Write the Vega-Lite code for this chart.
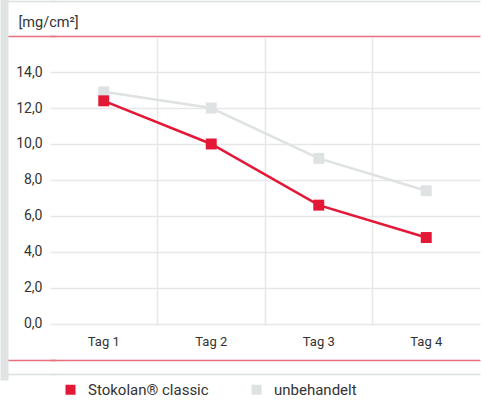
{
  "$schema": "https://vega.github.io/schema/vega-lite/v6.json",
  "width": 426,
  "height": 375,
  "autosize": {"type": "none"},
  "padding": {"left": 56, "top": 1, "right": 0, "bottom": 31},
  "background": "#ffffff",
  "config": {
    "view": {"stroke": null},
    "font": "Roboto"
  },
  "data": {
    "values": [
      {"tag": "Tag 1", "serie": "Stokolan® classic", "wert": 12.4},
      {"tag": "Tag 2", "serie": "Stokolan® classic", "wert": 10.0},
      {"tag": "Tag 3", "serie": "Stokolan® classic", "wert": 6.6},
      {"tag": "Tag 4", "serie": "Stokolan® classic", "wert": 4.8},
      {"tag": "Tag 1", "serie": "unbehandelt", "wert": 12.9},
      {"tag": "Tag 2", "serie": "unbehandelt", "wert": 12.0},
      {"tag": "Tag 3", "serie": "unbehandelt", "wert": 9.2},
      {"tag": "Tag 4", "serie": "unbehandelt", "wert": 7.4}
    ]
  },
  "encoding": {
    "x": {
      "field": "tag",
      "type": "ordinal",
      "scale": {"type": "band", "range": [-6, 424], "paddingInner": 0, "paddingOuter": 0},
      "axis": {
        "title": null,
        "orient": "bottom",
        "offset": -51,
        "bandPosition": 0,
        "grid": false,
        "ticks": true,
        "tickSize": -288,
        "tickWidth": 1.5,
        "tickColor": {"condition": {"test": "datum.value == 'Tag 1'", "value": "transparent"}, "value": "#e6e8e8"},
        "domain": false,
        "labelAngle": 0,
        "labelFontSize": 13,
        "labelColor": "#333333",
        "labelPadding": 298
      }
    },
    "y": {
      "field": "wert",
      "type": "quantitative",
      "scale": {"domain": [-2.9, 17.95], "nice": false, "zero": false},
      "axis": {
        "title": "[mg/cm²]",
        "titleAngle": 0,
        "titleAlign": "left",
        "titleBaseline": "middle",
        "titleX": 14,
        "titleY": 21,
        "titleFontSize": 14.5,
        "titleFontWeight": "normal",
        "titleColor": "#333333",
        "values": [-2.8, -2, 0, 2, 4, 6, 8, 10, 12, 14, 16, 17.95],
        "labelExpr": "datum.value < 0 || datum.value > 14 ? '' : replace(format(datum.value, '.1f'), '.', ',')",
        "labelFontSize": 14,
        "labelColor": "#333333",
        "offset": 52,
        "labelPadding": 14,
        "tickSize": -52,
        "tickWidth": 1.5,
        "tickColor": {"condition": [{"test": "datum.value == 16 || datum.value == -2", "value": "#e8707f"}, {"test": "datum.value < -2.5 || datum.value > 17", "value": "#dcdfdf"}], "value": "transparent"},
        "grid": true,
        "gridWidth": 1.5,
        "gridColor": {"condition": [{"test": "datum.value == 16 || datum.value == -2", "value": "#e8707f"}, {"test": "datum.value < -2.5 || datum.value > 17", "value": "#dcdfdf"}], "value": "#e6e8e8"},
        "domain": true,
        "domainColor": "#dfe3e3",
        "domainWidth": 8,
        "domainCap": "square"
      }
    },
    "color": {
      "field": "serie",
      "type": "nominal",
      "scale": {"domain": ["Stokolan® classic", "unbehandelt"], "range": ["#e31837", "#dfe2e2"]},
      "legend": {
        "title": null,
        "orient": "none",
        "direction": "horizontal",
        "legendX": 7,
        "legendY": 381,
        "symbolType": "square",
        "symbolSize": 100,
        "symbolStrokeWidth": 0,
        "labelFontSize": 15,
        "labelColor": "#333333",
        "labelOffset": 10,
        "columnPadding": 40
      }
    }
  },
  "layer": [
    {"mark": {"type": "line", "strokeWidth": 2.5}},
    {
      "mark": {"type": "point", "shape": "square", "filled": true, "opacity": 1, "size": 120},
      "encoding": {"order": {"field": "serie", "sort": "descending"}}
    }
  ]
}
